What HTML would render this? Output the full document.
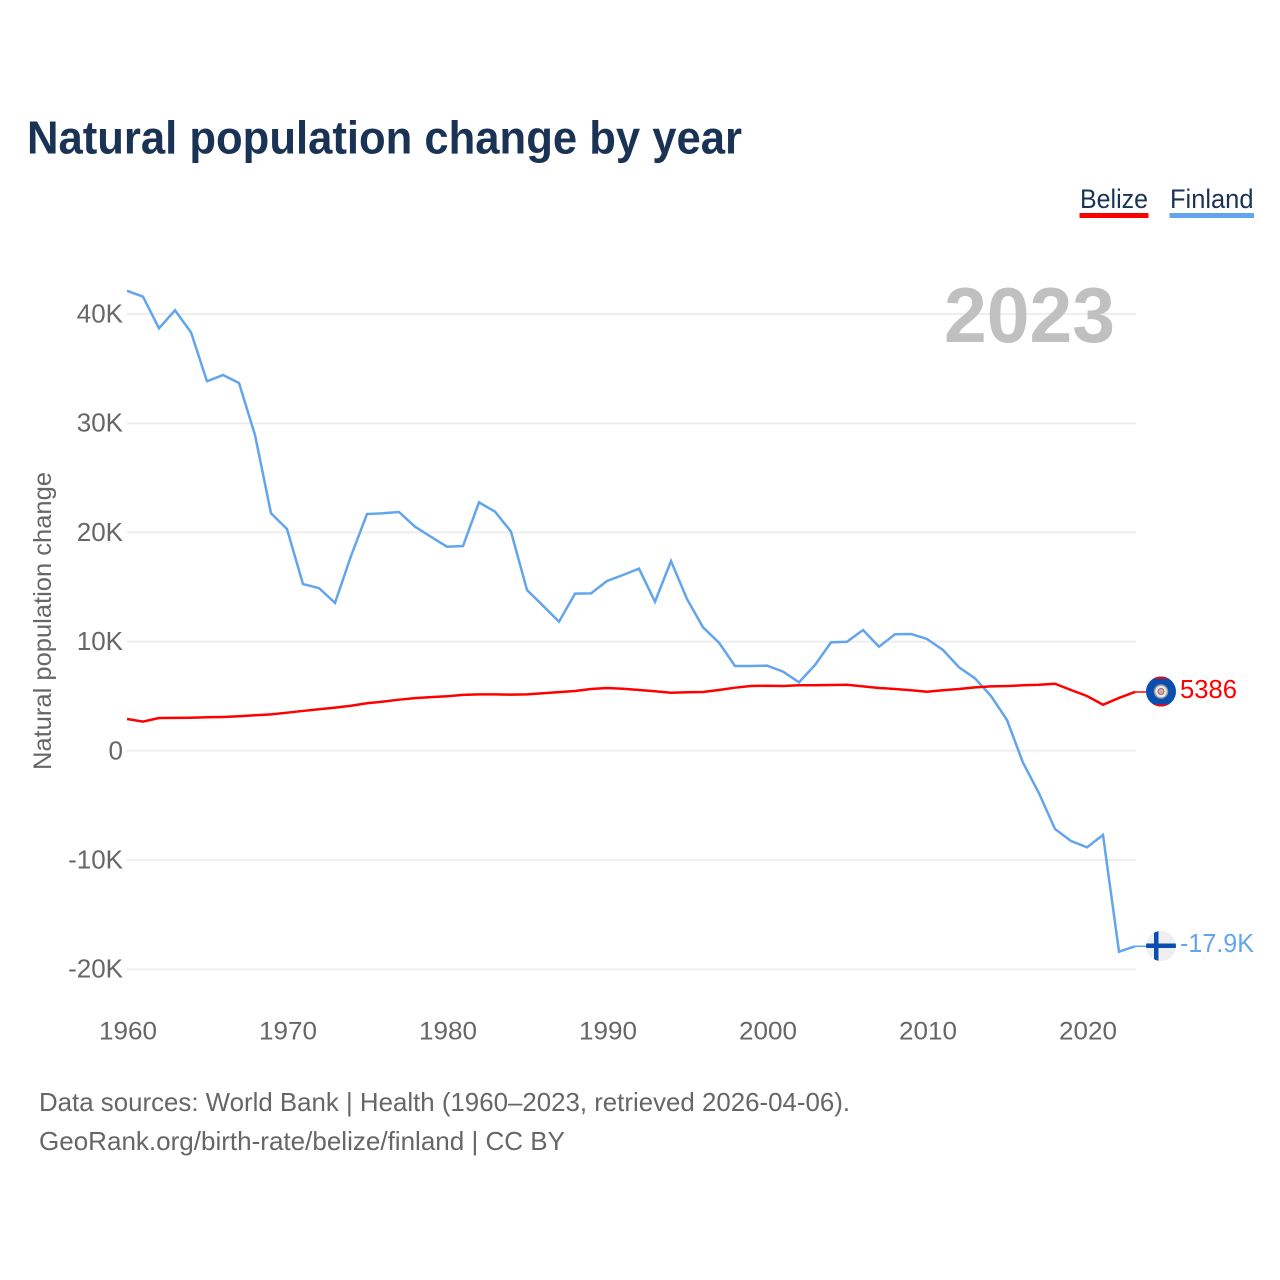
<!DOCTYPE html>
<html lang="en">
<head>
<meta charset="utf-8">
<title>Natural population change by year</title>
<style>
  html, body { margin: 0; padding: 0; background: #fff; }
  svg { display: block; }
  text { font-family: "Liberation Sans", sans-serif; }
</style>
</head>
<body>
<svg id="chart" width="1280" height="1280" viewBox="0 0 1280 1280" xmlns="http://www.w3.org/2000/svg">
  <rect width="1280" height="1280" fill="#fff"/>
  <text x="27" y="153.5" font-size="46" font-weight="700" fill="#1a3354" textLength="715" lengthAdjust="spacingAndGlyphs">Natural population change by year</text>

  <g>
    <g>
      <text x="1080" y="208" font-size="27" fill="#1a3354" textLength="68" lengthAdjust="spacingAndGlyphs">Belize</text>
      <rect x="1079.5" y="213" width="69" height="5" fill="#ff0000"/>
    </g>
    <g>
      <text x="1170" y="208" font-size="27" fill="#1a3354" textLength="83.5" lengthAdjust="spacingAndGlyphs">Finland</text>
      <rect x="1169.5" y="213" width="84.5" height="5" fill="#63a5ec"/>
    </g>
  </g>

  <g id="grid"></g>
  <g id="y-ticks"></g>
  <g id="x-ticks"></g>
  <text transform="translate(51 621) rotate(-90)" text-anchor="middle" font-size="25" fill="#666" textLength="298" lengthAdjust="spacingAndGlyphs">Natural population change</text>
  <text id="year-label" x="1115" y="342" text-anchor="end" font-size="78" font-weight="700" fill="#c0c0c0" textLength="171" lengthAdjust="spacingAndGlyphs"></text>

  <g id="series"></g>

  <defs>
    <clipPath id="flag-clip-belize"><circle id="clip-circle-belize" cx="1161" cy="691.5" r="15"/></clipPath>
    <clipPath id="flag-clip-finland"><circle id="clip-circle-finland" cx="1161" cy="946" r="15"/></clipPath>
  </defs>
  <g id="flag-belize">
    <g clip-path="url(#flag-clip-belize)">
      <rect x="1146" y="676" width="30" height="31" fill="#0a4fb0"/>
      <rect x="1146" y="676" width="30" height="3" fill="#ce1126"/>
      <rect x="1146" y="704" width="30" height="3" fill="#ce1126"/>
      <circle cx="1161" cy="691.5" r="6.5" fill="#e8e8e8" stroke="#999" stroke-width="1.5"/>
      <circle cx="1161" cy="691.5" r="3" fill="#f0a0a0" stroke="#777" stroke-width="1"/>
    </g>
  </g>
  <g id="flag-finland">
    <g clip-path="url(#flag-clip-finland)">
      <rect x="1146" y="931" width="30" height="30" fill="#efeff1"/>
      <rect x="1146" y="943.5" width="30" height="4.5" fill="#0a4fb0"/>
      <rect x="1154" y="931" width="4.5" height="30" fill="#0a4fb0"/>
    </g>
  </g>

  <text id="value-belize" x="1180" y="698" font-size="26" fill="#ff0000" textLength="57" lengthAdjust="spacingAndGlyphs"></text>
  <text id="value-finland" x="1180" y="952" font-size="26" fill="#63a5ec" textLength="74" lengthAdjust="spacingAndGlyphs"></text>

  <text x="39" y="1111" font-size="26" fill="#666" textLength="811" lengthAdjust="spacingAndGlyphs">Data sources: World Bank | Health (1960–2023, retrieved 2026-04-06).</text>
  <text x="39" y="1150" font-size="26" fill="#666" textLength="526" lengthAdjust="spacingAndGlyphs">GeoRank.org/birth-rate/belize/finland | CC BY</text>
</svg>

<script>
const years = [1960,1961,1962,1963,1964,1965,1966,1967,1968,1969,1970,1971,1972,1973,1974,1975,1976,1977,1978,1979,1980,1981,1982,1983,1984,1985,1986,1987,1988,1989,1990,1991,1992,1993,1994,1995,1996,1997,1998,1999,2000,2001,2002,2003,2004,2005,2006,2007,2008,2009,2010,2011,2012,2013,2014,2015,2016,2017,2018,2019,2020,2021,2022,2023];
const belizeValues = [2910,2670,3000,3020,3030,3070,3100,3160,3250,3340,3490,3650,3800,3950,4130,4350,4500,4680,4820,4920,4990,5120,5170,5170,5140,5170,5270,5370,5480,5660,5750,5680,5570,5450,5320,5360,5380,5570,5780,5930,5960,5930,6000,6000,6030,6050,5900,5750,5660,5540,5410,5540,5660,5810,5900,5930,6000,6050,6140,5570,5020,4220,4840,5386];
const finlandValues = [42130,41590,38690,40340,38320,33840,34410,33680,28920,21750,20310,15270,14900,13540,17840,21680,21750,21870,20520,19600,18690,18750,22750,21900,20070,14720,13290,11820,14390,14420,15550,16100,16680,13650,17380,13900,11310,9900,7770,7770,7800,7250,6270,7860,9930,9990,11060,9530,10670,10700,10240,9230,7650,6640,5020,2820,-1090,-3890,-7160,-8260,-8840,-7710,-18400,-17900];
const yTickValues = [40000,30000,20000,10000,0,-10000,-20000];
const yTickLabels = ["40K","30K","20K","10K","0","-10K","-20K"];
const xTickValues = [1960,1970,1980,1990,2000,2010,2020];

const NS = "http://www.w3.org/2000/svg";
function xScale(year) { return 127 + (year - 1960) * 16; }
function yScale(value) { return 750.8 - value * 0.01092; }
function formatValue(value) {
  return Math.abs(value) >= 10000 ? (value / 1000).toFixed(1) + "K" : String(value);
}

const gridGroup = document.getElementById("grid");
const yTickGroup = document.getElementById("y-ticks");
yTickValues.forEach(function (value, i) {
  const line = document.createElementNS(NS, "line");
  
  
  line.setAttribute("x1", 127);
  line.setAttribute("x2", 1136);
  line.setAttribute("y1", yScale(value));
  line.setAttribute("y2", yScale(value));
  line.setAttribute("stroke", "#eeeeee");
  line.setAttribute("stroke-width", 2);
  gridGroup.appendChild(line);

  const label = document.createElementNS(NS, "text");
  
  
  label.setAttribute("x", 123);
  label.setAttribute("y", yScale(value) + 8.5);
  label.setAttribute("text-anchor", "end");
  label.setAttribute("font-size", 26);
  label.setAttribute("fill", "#666");
  label.textContent = yTickLabels[i];
  yTickGroup.appendChild(label);
});

const xTickGroup = document.getElementById("x-ticks");
xTickValues.forEach(function (year) {
  const label = document.createElementNS(NS, "text");
  
  
  label.setAttribute("x", xScale(year) + 1);
  label.setAttribute("y", 1039.5);
  label.setAttribute("text-anchor", "middle");
  label.setAttribute("font-size", 25);
  label.setAttribute("fill", "#666");
  label.setAttribute("textLength", 58);
  label.setAttribute("lengthAdjust", "spacingAndGlyphs");
  label.textContent = year;
  xTickGroup.appendChild(label);
});

function linePath(values) {
  return values.map(function (value, i) {
    return (i ? "L" : "M") + xScale(years[i]) + " " + yScale(value).toFixed(2);
  }).join(" ");
}

const seriesGroup = document.getElementById("series");

const finlandLine = document.createElementNS(NS, "path");


finlandLine.setAttribute("d", linePath(finlandValues));
finlandLine.setAttribute("fill", "none");
finlandLine.setAttribute("stroke", "#63a5ec");
finlandLine.setAttribute("stroke-width", 2.5);
finlandLine.setAttribute("stroke-linejoin", "miter");
seriesGroup.appendChild(finlandLine);

const belizeLine = document.createElementNS(NS, "path");


belizeLine.setAttribute("d", linePath(belizeValues));
belizeLine.setAttribute("fill", "none");
belizeLine.setAttribute("stroke", "#ff0000");
belizeLine.setAttribute("stroke-width", 2.5);
belizeLine.setAttribute("stroke-linejoin", "miter");
seriesGroup.appendChild(belizeLine);

const finlandLead = document.createElementNS(NS, "line");


finlandLead.setAttribute("x1", xScale(years[years.length - 1]));
finlandLead.setAttribute("x2", 1146);
finlandLead.setAttribute("y1", yScale(finlandValues[finlandValues.length - 1]));
finlandLead.setAttribute("y2", yScale(finlandValues[finlandValues.length - 1]));
finlandLead.setAttribute("stroke", "#63a5ec");
finlandLead.setAttribute("stroke-width", 1.5);
seriesGroup.appendChild(finlandLead);

const belizeLead = document.createElementNS(NS, "line");


belizeLead.setAttribute("x1", xScale(years[years.length - 1]));
belizeLead.setAttribute("x2", 1146);
belizeLead.setAttribute("y1", yScale(belizeValues[belizeValues.length - 1]));
belizeLead.setAttribute("y2", yScale(belizeValues[belizeValues.length - 1]));
belizeLead.setAttribute("stroke", "#ff0000");
belizeLead.setAttribute("stroke-width", 1.5);
seriesGroup.appendChild(belizeLead);

document.getElementById("year-label").textContent = years[years.length - 1];
document.getElementById("value-belize").textContent = formatValue(belizeValues[belizeValues.length - 1]);
document.getElementById("value-finland").textContent = formatValue(finlandValues[finlandValues.length - 1]);
</script>
</body>
</html>
